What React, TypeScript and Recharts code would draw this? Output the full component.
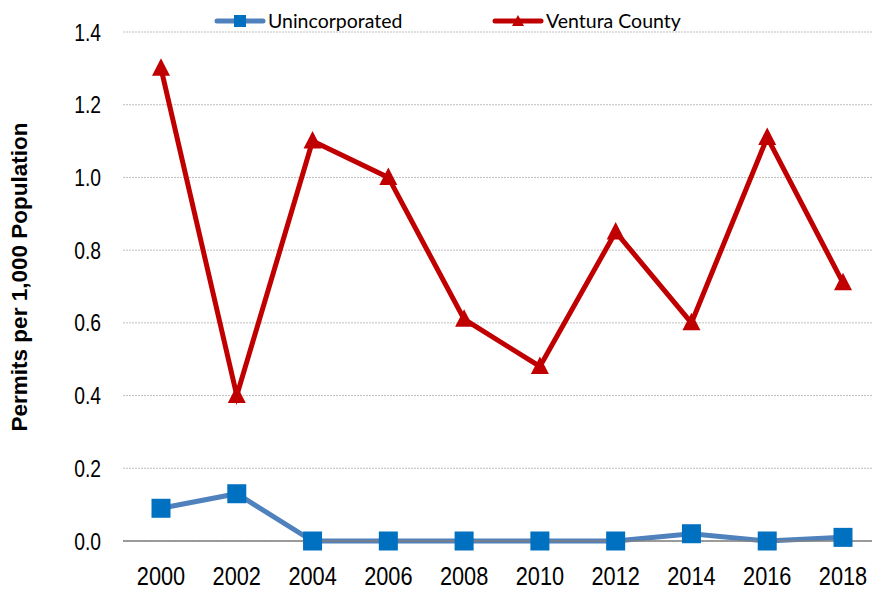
import React from "react";
import {
  LineChart,
  Line,
  XAxis,
  YAxis,
  CartesianGrid,
} from "recharts";

const years = ["2000", "2002", "2004", "2006", "2008", "2010", "2012", "2014", "2016", "2018"];
const unincorporated = [0.09, 0.13, 0, 0, 0, 0, 0, 0.02, 0, 0.01];
const venturaCounty = [1.3, 0.4, 1.1, 1.0, 0.61, 0.48, 0.85, 0.6, 1.11, 0.71];
const yTicks = [0, 0.2, 0.4, 0.6, 0.8, 1.0, 1.2, 1.4];

const data = years.map((year, i) => ({
  year,
  unincorporated: unincorporated[i],
  ventura: venturaCounty[i],
}));

const RED = "#C00000";
const BLUE_LINE = "#4F81BD";
const BLUE_MARK = "#0070C0";
const SANS = "'Liberation Sans', Arial, sans-serif";

const SquareDot = (props: any) => {
  const { cx, cy } = props;
  if (cx == null || cy == null) return null;
  return <rect x={cx - 9.5} y={cy - 9.5} width={19} height={19} fill={BLUE_MARK} />;
};

const TriangleDot = (props: any) => {
  const { cx, cy } = props;
  if (cx == null || cy == null) return null;
  return (
    <path
      d={`M${cx},${cy - 10} L${cx + 9},${cy + 7.5} L${cx - 9},${cy + 7.5} Z`}
      fill={RED}
    />
  );
};

// arial narrow look: squeeze liberation sans horizontally
const XTick = (props: any) => {
  const { x, y, payload } = props;
  return (
    <g transform={`translate(${x},${y + 42}) scale(0.87,1)`}>
      <text textAnchor="middle" fontFamily={SANS} fontSize={25} fill="#000">
        {payload.value}
      </text>
    </g>
  );
};

const YTick = (props: any) => {
  const { y, payload } = props;
  return (
    <g transform={`translate(101,${y + 8.5}) scale(0.84,1)`}>
      <text textAnchor="end" fontFamily={SANS} fontSize={23} fill="#000">
        {Number(payload.value).toFixed(1)}
      </text>
    </g>
  );
};

function LegendBox() {
  const item = (label: string, color: string, marker: React.ReactNode, width: number) => (
    <div style={{ display: "flex", alignItems: "center", width }}>
      <svg width={52} height={14} style={{ marginRight: 2 }}>
        <line x1={3} y1={7} x2={49} y2={7} stroke={color} strokeWidth={5} strokeLinecap="round" />
        {marker}
      </svg>
      <span>{label}</span>
    </div>
  );
  return (
    <div
      style={{
        position: "absolute",
        top: 8,
        left: 214,
        display: "flex",
        fontFamily: "Lato, 'Liberation Sans', Arial, sans-serif",
        fontSize: 19.5,
        color: "#000",
        lineHeight: "26px",
      }}
    >
      {item("Unincorporated", BLUE_LINE, <rect x={20} y={1} width={12} height={12} fill={BLUE_MARK} />, 278)}
      {item("Ventura County", RED, <path d="M26,1 L32,12 L20,12 Z" fill={RED} />, 260)}
    </div>
  );
}

export default function App() {
  return (
    <div style={{ position: "absolute", left: 0, top: 0, width: 873, height: 589, background: "#fff" }}>
      <LineChart
        width={873}
        height={589}
        data={data}
        margin={{ top: 32, right: 1, bottom: 0, left: 0 }}
      >
        <CartesianGrid
          vertical={false}
          stroke="#BFBFBF"
          strokeDasharray="2 1"
          strokeWidth={1}
        />
        <XAxis
          dataKey="year"
          height={48}
          padding={{ left: 38, right: 29 }}
          axisLine={{ stroke: "#808080", strokeWidth: 1.5 }}
          tickLine={false}
          tickSize={0}
          tick={<XTick />}
          interval={0}
        />
        <YAxis
          width={123}
          domain={[0, 1.4]}
          ticks={yTicks}
          axisLine={false}
          tickLine={false}
          tickSize={0}
          tick={<YTick />}
        />
        <text
          x={19}
          y={277}
          transform="rotate(-90 19 277)"
          textAnchor="middle"
          dominantBaseline="central"
          fontFamily={SANS}
          fontWeight="bold"
          fontSize={22.5}
          fill="#000"
        >
          Permits per 1,000 Population
        </text>
        <Line
          dataKey="unincorporated"
          name="Unincorporated"
          stroke={BLUE_LINE}
          strokeWidth={5}
          dot={<SquareDot />}
          activeDot={false}
          isAnimationActive={false}
        />
        <Line
          dataKey="ventura"
          name="Ventura County"
          stroke={RED}
          strokeWidth={5}
          dot={<TriangleDot />}
          activeDot={false}
          isAnimationActive={false}
        />
      </LineChart>
      <LegendBox />
    </div>
  );
}
